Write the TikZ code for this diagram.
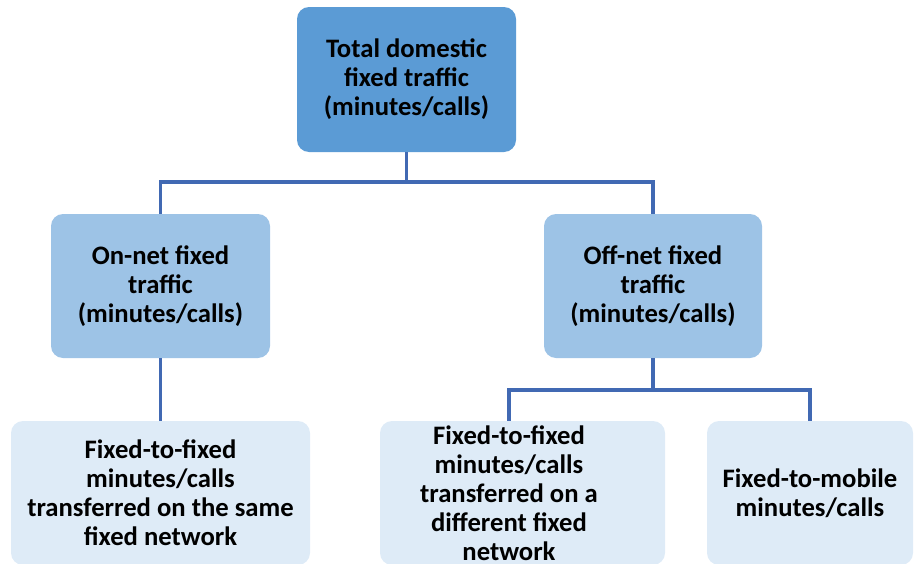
\documentclass[tikz,border=0pt]{standalone}
\usepackage{fontspec}
\setmainfont{Carlito}
\definecolor{topfill}{HTML}{5B9BD5}
\definecolor{midfill}{HTML}{9DC3E6}
\definecolor{lowfill}{HTML}{DEEBF7}
\definecolor{linkcol}{HTML}{4169B3}
\tikzset{
  box/.style={rectangle, rounded corners=12*0.75pt, draw=none, align=center,
    font=\fontsize{20pt}{21.75pt}\selectfont\bfseries, inner sep=0pt},
  link/.style={draw=linkcol, line width=2.4pt},
}
\begin{document}
\begin{tikzpicture}[x=0.75pt,y=-0.75pt]
\useasboundingbox (0,0) rectangle (914,564);
\clip (0,0) rectangle (914,564);
\node[box, fill=topfill, minimum width=219*0.75pt, minimum height=145*0.75pt] (top) at (406.5,79.5)
  {Total domestic\\fixed traffic\\(minutes/calls)};
\node[box, fill=midfill, minimum width=219*0.75pt, minimum height=144*0.75pt] (onnet) at (160.5,286)
  {On-net fixed\\traffic\\(minutes/calls)};
\node[box, fill=midfill, minimum width=218*0.75pt, minimum height=144*0.75pt] (offnet) at (653,286)
  {Off-net fixed\\traffic\\(minutes/calls)};
\node[box, fill=lowfill, minimum width=299*0.75pt, minimum height=144*0.75pt] (same) at (160.5,493)
  {Fixed-to-fixed\\minutes/calls\\transferred on the same\\fixed network};
\node[box, fill=lowfill, minimum width=285*0.75pt, minimum height=144*0.75pt] (diffbox) at (522.5,493) {};
\node[box] (diff) at (509,493)
  {Fixed-to-fixed\\minutes/calls\\transferred on a\\different fixed\\network};
\node[box, fill=lowfill, minimum width=206*0.75pt, minimum height=144*0.75pt] (mobile) at (810,493)
  {Fixed-to-mobile\\minutes/calls};
\coordinate (bus1) at (406.5,182);
\coordinate (bus2) at (653,390);
\coordinate (diffin) at (509,421);
\draw[link] (top.south) -- (bus1) -| (onnet.north);
\draw[link] (bus1) -| (offnet.north);
\draw[link] (onnet.south) -- (same.north);
\draw[link] (offnet.south) -- (bus2) -| (diffin);
\draw[link] (bus2) -| (mobile.north);
\end{tikzpicture}
\end{document}
